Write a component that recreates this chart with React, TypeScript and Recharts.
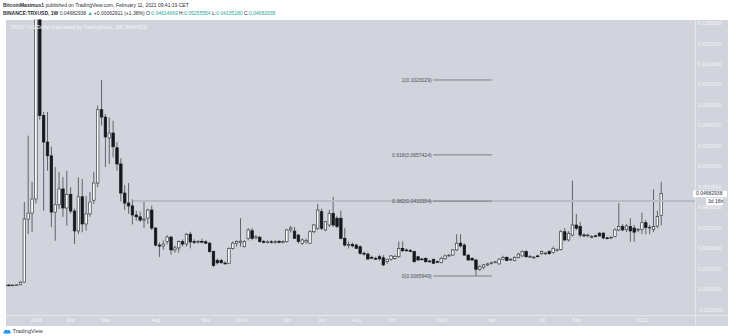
import React from 'react';
import { ComposedChart, Bar, XAxis, YAxis, ReferenceLine } from 'recharts';

// Weekly candles, week index counted from Monday 1 Jan 2018
const firstWeek = -8;

const opens = [
  0.0021, 0.0022, 0.0021, 0.0022, 0.0023, 0.0036, 0.0344, 0.0373,
  0.0442, 0.1750, 0.0849, 0.0720, 0.0653, 0.0378, 0.0414, 0.0491, 0.0398, 0.0465,
  0.0383, 0.0286, 0.0453, 0.0320, 0.0369, 0.0436, 0.0520, 0.0878, 0.0842, 0.0740,
  0.0764, 0.0692, 0.0613, 0.0471, 0.0422, 0.0408, 0.0364, 0.0355, 0.0339, 0.0349,
  0.0388, 0.0300, 0.0217, 0.0212, 0.0234, 0.0256, 0.0193, 0.0203, 0.0234, 0.0222,
  0.0270, 0.0234, 0.0233, 0.0235, 0.0233, 0.0226, 0.0185, 0.0142, 0.0142, 0.0129,
  0.0128, 0.0201, 0.0226, 0.0230, 0.0209, 0.0250, 0.0287, 0.0252, 0.0255, 0.0234,
  0.0232, 0.0233, 0.0231, 0.0234, 0.0232, 0.0234, 0.0291, 0.0285, 0.0266, 0.0225,
  0.0232, 0.0226, 0.0282, 0.0299, 0.0380, 0.0291, 0.0315, 0.0372, 0.0348, 0.0348,
  0.0250, 0.0217, 0.0220, 0.0217, 0.0209, 0.0177, 0.0173, 0.0157, 0.0152, 0.0160,
  0.0155, 0.0136, 0.0148, 0.0152, 0.0160, 0.0201, 0.0193, 0.0190, 0.0185, 0.0160,
  0.0149, 0.0152, 0.0139, 0.0147, 0.0136, 0.0131, 0.0150, 0.0164, 0.0168, 0.0193,
  0.0226, 0.0217, 0.0168, 0.0152, 0.0144, 0.0099, 0.0109, 0.0120, 0.0126, 0.0131,
  0.0125, 0.0148, 0.0157, 0.0147, 0.0141, 0.0157, 0.0164, 0.0185, 0.0160, 0.0157,
  0.0164, 0.0175, 0.0177, 0.0185, 0.0180, 0.0193, 0.0196, 0.0282, 0.0242, 0.0266,
  0.0315, 0.0307, 0.0266, 0.0264, 0.0258, 0.0262, 0.0275, 0.0275, 0.0252, 0.0254,
  0.0259, 0.0291, 0.0307, 0.0294, 0.0307, 0.0300, 0.0290, 0.0294, 0.0326, 0.0303,
  0.0294, 0.0310, 0.03614969,
];

const highs = [
  0.0023, 0.0024, 0.0023, 0.0024, 0.0040, 0.0427, 0.0751, 0.0525,
  0.2300, 0.2000, 0.0867, 0.0867, 0.0696, 0.0598, 0.0574, 0.0549, 0.0580, 0.0500,
  0.0395, 0.0548, 0.0540, 0.0458, 0.0476, 0.0574, 0.0898, 0.1023029, 0.0857, 0.0840,
  0.0824, 0.0720, 0.0640, 0.0510, 0.0520, 0.0440, 0.0385, 0.0380, 0.0437, 0.0395,
  0.0410, 0.0305, 0.0230, 0.0240, 0.0266, 0.0262, 0.0215, 0.0240, 0.0245, 0.0276,
  0.0282, 0.0245, 0.0242, 0.0248, 0.0240, 0.0232, 0.0190, 0.0152, 0.0150, 0.0138,
  0.0205, 0.0235, 0.0240, 0.0348, 0.0240, 0.0300, 0.0300, 0.0265, 0.0262, 0.0242,
  0.0240, 0.0241, 0.0240, 0.0242, 0.0240, 0.0296, 0.0310, 0.0305, 0.0270, 0.0250,
  0.0250, 0.0290, 0.0320, 0.0418, 0.0395, 0.0335, 0.0390, 0.0453, 0.0360, 0.0385,
  0.0300, 0.0235, 0.0230, 0.0225, 0.0215, 0.0185, 0.0180, 0.0165, 0.0160, 0.0170,
  0.0168, 0.0150, 0.0168, 0.0168, 0.0235, 0.0235, 0.0200, 0.0198, 0.0190, 0.0165,
  0.0155, 0.0158, 0.0145, 0.0152, 0.0142, 0.0160, 0.0170, 0.0172, 0.0198, 0.0270,
  0.0270, 0.0225, 0.0172, 0.0158, 0.0150, 0.0120, 0.0125, 0.0130, 0.0135, 0.0138,
  0.0152, 0.0165, 0.0162, 0.0152, 0.0162, 0.0178, 0.0190, 0.0192, 0.0168, 0.0163,
  0.0170, 0.0190, 0.0182, 0.0192, 0.0210, 0.0200, 0.0290, 0.0300, 0.0285, 0.0531,
  0.0369, 0.0330, 0.0275, 0.0272, 0.0266, 0.0268, 0.0280, 0.0282, 0.0258, 0.0260,
  0.0300, 0.0421, 0.0320, 0.0320, 0.0348, 0.0315, 0.0300, 0.0375, 0.0340, 0.0315,
  0.0489, 0.0384, 0.05255554,
];

const lows = [
  0.0020, 0.0020, 0.0019, 0.0020, 0.0022, 0.0034, 0.0271, 0.0281,
  0.0420, 0.0830, 0.0385, 0.0580, 0.0305, 0.0238, 0.0393, 0.0354, 0.0312, 0.0370,
  0.0222, 0.0271, 0.0279, 0.0287, 0.0355, 0.0418, 0.0500, 0.0800, 0.0598, 0.0613,
  0.0645, 0.0580, 0.0430, 0.0388, 0.0370, 0.0318, 0.0335, 0.0330, 0.0300, 0.0320,
  0.0290, 0.0210, 0.0159, 0.0195, 0.0220, 0.0170, 0.0180, 0.0180, 0.0210, 0.0210,
  0.0201, 0.0222, 0.0224, 0.0226, 0.0222, 0.0180, 0.0110, 0.0122, 0.0125, 0.0122,
  0.0124, 0.0195, 0.0210, 0.0209, 0.0205, 0.0240, 0.0240, 0.0245, 0.0228, 0.0226,
  0.0224, 0.0225, 0.0224, 0.0226, 0.0225, 0.0228, 0.0278, 0.0248, 0.0225, 0.0218,
  0.0225, 0.0222, 0.0275, 0.0290, 0.0290, 0.0285, 0.0305, 0.0305, 0.0300, 0.0245,
  0.0210, 0.0200, 0.0205, 0.0198, 0.0170, 0.0165, 0.0145, 0.0148, 0.0145, 0.0140,
  0.0115, 0.0125, 0.0140, 0.0145, 0.0155, 0.0185, 0.0185, 0.0182, 0.0130, 0.0140,
  0.0143, 0.0130, 0.0133, 0.0125, 0.0130, 0.0128, 0.0145, 0.0160, 0.0165, 0.0188,
  0.0205, 0.0165, 0.0140, 0.0140, 0.0065949, 0.0090, 0.0100, 0.0115, 0.0122, 0.0128,
  0.0122, 0.0143, 0.0138, 0.0142, 0.0138, 0.0152, 0.0160, 0.0155, 0.0155, 0.0152,
  0.0158, 0.0170, 0.0170, 0.0170, 0.0175, 0.0185, 0.0190, 0.0235, 0.0235, 0.0260,
  0.0290, 0.0255, 0.0255, 0.0255, 0.0250, 0.0255, 0.0258, 0.0245, 0.0245, 0.0248,
  0.0255, 0.0285, 0.0285, 0.0280, 0.0233, 0.0233, 0.0280, 0.0270, 0.0270, 0.0270,
  0.0280, 0.0300, 0.03135180,
];

const closes = [
  0.0022, 0.0021, 0.0022, 0.0023, 0.0036, 0.0344, 0.0373, 0.0442,
  0.1750, 0.0849, 0.0720, 0.0653, 0.0378, 0.0414, 0.0491, 0.0398, 0.0465, 0.0383,
  0.0286, 0.0453, 0.0320, 0.0369, 0.0427, 0.0520, 0.0878, 0.0842, 0.0745, 0.0764,
  0.0697, 0.0613, 0.0471, 0.0422, 0.0408, 0.0364, 0.0355, 0.0339, 0.0344, 0.0388,
  0.0300, 0.0217, 0.0212, 0.0222, 0.0256, 0.0193, 0.0203, 0.0234, 0.0222, 0.0270,
  0.0232, 0.0233, 0.0235, 0.0233, 0.0226, 0.0185, 0.0118, 0.0130, 0.0131, 0.0128,
  0.0201, 0.0226, 0.0234, 0.0236, 0.0234, 0.0291, 0.0250, 0.0258, 0.0234, 0.0232,
  0.0233, 0.0231, 0.0234, 0.0232, 0.0234, 0.0291, 0.0300, 0.0250, 0.0234, 0.0242,
  0.0240, 0.0282, 0.0315, 0.0388, 0.0299, 0.0331, 0.0372, 0.0315, 0.0307, 0.0250,
  0.0217, 0.0220, 0.0213, 0.0201, 0.0177, 0.0176, 0.0149, 0.0156, 0.0151, 0.0150,
  0.0120, 0.0148, 0.0164, 0.0162, 0.0201, 0.0189, 0.0192, 0.0189, 0.0136, 0.0144,
  0.0148, 0.0136, 0.0138, 0.0128, 0.0135, 0.0152, 0.0164, 0.0168, 0.0193, 0.0226,
  0.0213, 0.0168, 0.0144, 0.0144, 0.0099, 0.0111, 0.0120, 0.0125, 0.0131, 0.0136,
  0.0148, 0.0157, 0.0141, 0.0148, 0.0157, 0.0173, 0.0185, 0.0160, 0.0162, 0.0158,
  0.0163, 0.0185, 0.0178, 0.0175, 0.0201, 0.0194, 0.0282, 0.0242, 0.0274, 0.0315,
  0.0299, 0.0266, 0.0264, 0.0266, 0.0259, 0.0261, 0.0262, 0.0252, 0.0251, 0.0255,
  0.0291, 0.0307, 0.0291, 0.0310, 0.0286, 0.0280, 0.0294, 0.0326, 0.0303, 0.0304,
  0.0307, 0.0356, 0.04682938,
];

// Time axis labels (week index of the first candle of each period)
const timeTickWeeks = [0, 9, 18, 31, 44, 53, 65, 74, 83, 92, 105, 118, 131, 140, 157];
const timeTickLabels = ['2018', 'Mar', 'May', 'Aug', 'Nov', '2019', 'Apr', 'Jun', 'Aug', 'Oct', '2020', 'Apr', 'Jul', 'Sep', '2021'];

// Price axis
const priceTicks = [-0.01, 0, 0.01, 0.02, 0.03, 0.04, 0.05, 0.06, 0.07, 0.08, 0.09, 0.1, 0.11, 0.12, 0.13];
const priceDomain: [number, number] = [-0.01245, 0.13184];
const weekDomain: [number, number] = [-7.85, 170.65];

// Fibonacci retracement drawn between the 2020 low and the 2018 high
const fibRatios = [1, 0.618, 0.382, 0];
const fibPrices = [0.1023029, 0.0657424, 0.0431554, 0.0065949];
const fibFromWeek = 102.8;
const fibToWeek = 118;
const resistanceFromWeek = 25;
const resistancePrice = 0.0431554;

const lastPrice = 0.04682938;
const barCountdown = '3d 16h';

const candles = opens.map((open, i) => ({
  week: firstWeek + i,
  open,
  high: highs[i],
  low: lows[i],
  close: closes[i],
  range: [lows[i], highs[i]],
}));

const BG = '#d1d4dc';
const AXIS_TEXT = '#f3f4f7';
const FONT = '"Liberation Sans", Arial, sans-serif';

function Candle(props: any) {
  const { x, y, width, height, payload } = props;
  if (!payload || x == null || y == null) return null;
  const { open, close, high, low } = payload;
  const top = Math.min(y, y + height);
  const h = Math.abs(height);
  const perUnit = high > low ? h / (high - low) : 0;
  const toY = (v: number) => top + (high - v) * perUnit;
  const bodyTop = toY(Math.max(open, close));
  const bodyBottom = toY(Math.min(open, close));
  const mid = x + width / 2;
  const rising = close >= open;
  return (
    <g>
      <line x1={mid} x2={mid} y1={top} y2={top + h} stroke="#52565e" strokeWidth={0.9} />
      <rect
        x={x + 0.3}
        y={bodyTop}
        width={Math.max(width - 0.6, 0.5)}
        height={Math.max(bodyBottom - bodyTop, 0.8)}
        fill={rising ? '#ffffff' : '#15171c'}
        stroke={rising ? '#363a42' : '#15171c'}
        strokeWidth={0.7}
      />
    </g>
  );
}

function PriceTag(props: any) {
  const vb = props.viewBox || {};
  const right = (vb.x || 0) + (vb.width || 0);
  const y = vb.y || 0;
  return (
    <g style={{ fontFamily: FONT }}>
      <rect x={right - 2} y={y - 3} width={34} height={6.6} fill="#ffffff" />
      <text x={right + 1} y={y + 1.9} fontSize={5} fill="#2a2e39">{lastPrice.toFixed(8)}</text>
      <rect x={right + 11} y={y + 4.5} width={17} height={7} fill="#ffffff" />
      <text x={right + 13} y={y + 9.8} fontSize={5} fill="#2a2e39">{barCountdown}</text>
    </g>
  );
}

const green = '#26a69a';

export default function App() {
  return (
    <div style={{ position: 'absolute', left: 0, top: 0, width: 736, height: 336, background: '#ffffff', fontFamily: FONT, overflow: 'hidden' }}>
      <div style={{ position: 'absolute', left: 3, top: 1.5, fontSize: 5, color: '#2a2e39', whiteSpace: 'nowrap' }}>
        <b>BitcoinMaximus1</b> published on TradingView.com, February 11, 2021 09:41:19 CET
      </div>
      <div style={{ position: 'absolute', left: 3, top: 9.5, fontSize: 5, color: '#2a2e39', whiteSpace: 'nowrap' }}>
        <b>BINANCE:TRXUSD, 1W</b> 0.04682938 <span style={{ color: green }}>▲</span> +0.00062911 (+1.38%) O:<span style={{ color: green }}>0.04614969</span> H:<span style={{ color: green }}>0.05255554</span> L:<span style={{ color: green }}>0.04135180</span> C:<span style={{ color: green }}>0.04682938</span>
      </div>

      <div style={{ position: 'absolute', left: 6, top: 19.5, width: 722, height: 306.5, background: BG }} />
      <div style={{ position: 'absolute', left: 694.5, top: 19.5, width: 1, height: 306.5, background: '#e4e6eb' }} />
      <div style={{ position: 'absolute', left: 6, top: 314.5, width: 722, height: 1, background: '#e4e6eb' }} />

      <div style={{ position: 'absolute', left: 0, top: 0 }}>
        <ComposedChart
          width={736}
          height={336}
          data={candles}
          margin={{ top: 19.5, right: 8, bottom: 10, left: 6 }}
          style={{ fontFamily: FONT }}
        >
          <XAxis
            dataKey="week"
            type="number"
            domain={weekDomain}
            allowDataOverflow
            ticks={timeTickWeeks}
            interval={0}
            tickFormatter={(v: number) => timeTickLabels[timeTickWeeks.indexOf(v)] ?? ''}
            height={11}
            axisLine={false}
            tickLine={false}
            tickSize={0}
            tickMargin={3}
            tick={{ fontSize: 5, fill: AXIS_TEXT }}
          />
          <YAxis
            orientation="right"
            domain={priceDomain}
            allowDataOverflow
            ticks={priceTicks}
            interval={0}
            tickFormatter={(v: number) => v.toFixed(7)}
            width={33}
            axisLine={false}
            tickLine={false}
            tickSize={0}
            tickMargin={3}
            tick={{ fontSize: 5, fill: AXIS_TEXT, textAnchor: 'start' }}
          />
          <ReferenceLine
            segment={[{ x: resistanceFromWeek, y: resistancePrice }, { x: weekDomain[1], y: resistancePrice }]}
            stroke="#b9bcc5"
            strokeWidth={2}
          />
          <Bar dataKey="range" barSize={3.1} isAnimationActive={false} shape={(p: any) => <Candle {...p} />} />
          {fibPrices.map((price, i) => (
            <ReferenceLine
              key={fibRatios[i]}
              segment={[{ x: fibFromWeek, y: price }, { x: fibToWeek, y: price }]}
              stroke="#7c7f87"
              strokeWidth={1}
              label={{ value: `${fibRatios[i]}(${price.toFixed(7)})`, position: 'left', offset: 1.5, fontSize: 5, fill: '#4c4f57' }}
            />
          ))}
          <ReferenceLine y={lastPrice} stroke="none" label={<PriceTag />} />
        </ComposedChart>
      </div>

      <div style={{ position: 'absolute', left: 10, top: 23.5, fontSize: 5, color: '#f4f5f8', whiteSpace: 'nowrap' }}>
        TRON / US Dollar (calculated by TradingView), 1W, BINANCE
      </div>

      <div style={{ position: 'absolute', left: 3, top: 327.5, display: 'flex', alignItems: 'center', fontSize: 5.5, color: '#333743' }}>
        <svg width={8} height={6} viewBox="0 0 8 6" style={{ marginRight: 1.5 }}>
          <path d="M1 5.5 C0 5.5 0 3.6 1.2 3.5 C1.4 1.8 3.4 1.2 4.3 2.4 C5.2 1.4 7.4 2 7.2 3.6 C8.2 3.8 8 5.5 7 5.5 Z" fill="#2196f3" />
        </svg>
        TradingView
      </div>
    </div>
  );
}
